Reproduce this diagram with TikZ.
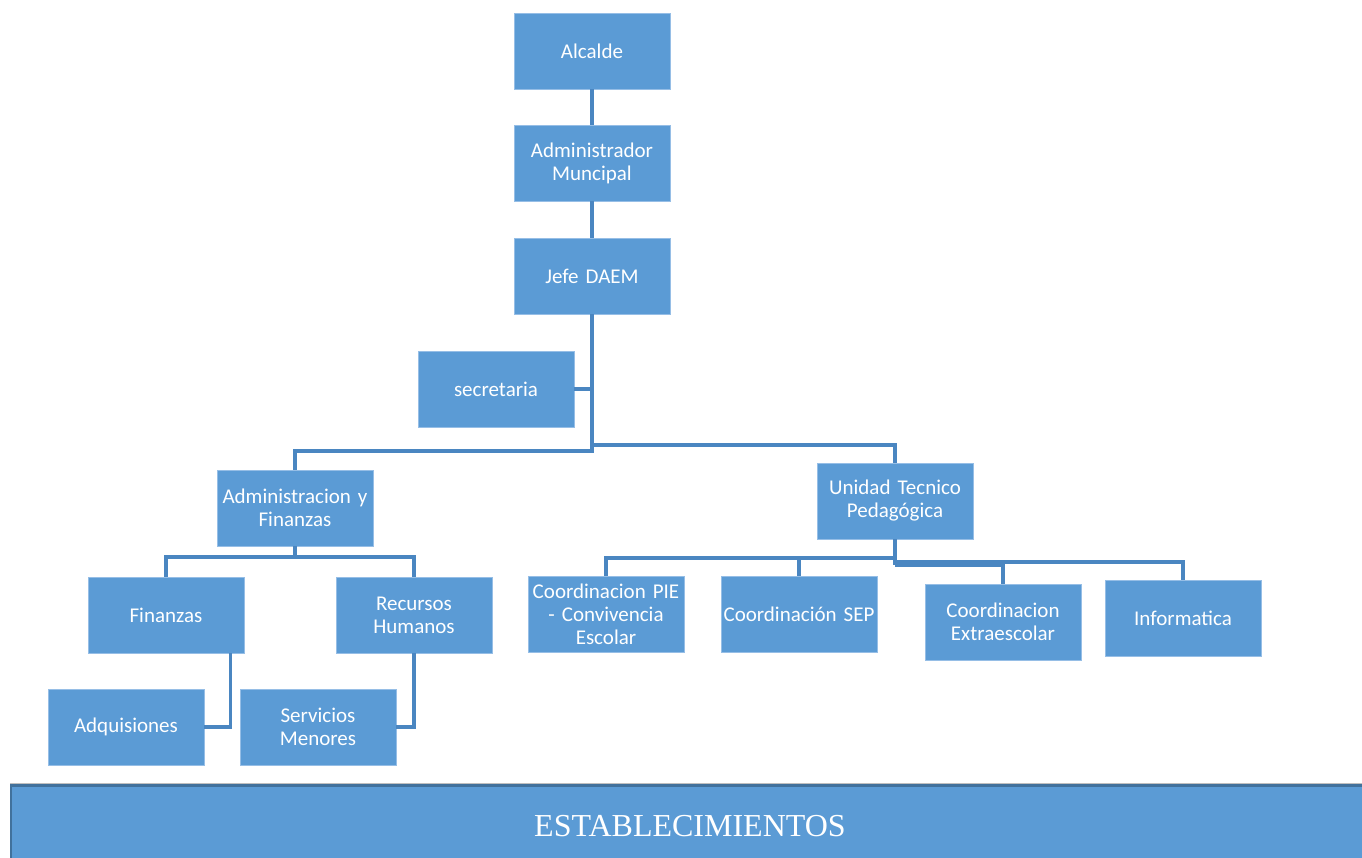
\documentclass[tikz,border=0pt]{standalone}
\usepackage{fontspec}
\setmainfont{Carlito}
\newfontfamily\timesfont{Liberation Serif}
\usetikzlibrary{calc}
\definecolor{boxfill}{RGB}{91,155,213}
\definecolor{boxedge}{RGB}{150,190,230}
\definecolor{linecol}{RGB}{74,134,193}
\definecolor{darkedge}{RGB}{65,113,156}
\tikzset{
  orgbox/.style={rectangle, fill=boxfill, draw=boxedge, line width=0.8pt,
    minimum width=156pt, minimum height=76pt, text=white, align=center,
    text width=152pt, inner sep=2pt, font=\fontsize{21}{23}\selectfont},
  conn/.style={draw=linecol, line width=3.2pt},
}
\begin{document}
\begin{tikzpicture}[x=1pt,y=-1pt]
\useasboundingbox (0,0) rectangle (1362,858);
\node[orgbox] (alc) at (592,51) {Alcalde};
\node[orgbox] (adm) at (592,163) {Administrador\\Muncipal};
\node[orgbox] (jefe) at (592,276) {Jefe DAEM};
\node[orgbox] (sec) at (496,389) {secretaria};
\node[orgbox] (af) at (295,508) {Administracion y\\Finanzas};
\node[orgbox] (utp) at (895,501) {Unidad Tecnico\\Pedagógica};
\node[orgbox] (fin) at (166,615) {Finanzas};
\node[orgbox] (rh) at (414,615) {Recursos\\Humanos};
\node[orgbox] (adq) at (126,727) {Adquisiones};
\node[orgbox] (sm) at (318,727) {Servicios\\Menores};
\node[orgbox] (pie) at (606,614) {Coordinacion PIE\\- Convivencia\\Escolar};
\node[orgbox] (sep) at (799,614) {Coordinación SEP};
\node[orgbox] (ext) at (1003,622) {Coordinacion\\Extraescolar};
\node[orgbox] (inf) at (1183,618) {Informatica};
% Establecimientos band
\fill[boxfill] (10,784) rectangle (1362,858);
\node[text=white, font=\timesfont\fontsize{32}{36}\selectfont] (est) at (690,826) {ESTABLECIMIENTOS};
\draw[black!25, line width=1pt] (10,783) -- (1362,783);
\draw[darkedge, line width=2.5pt] (11,858) -- (11,785.5) -- (1362,785.5);
% bus levels
\coordinate (busL) at (0,451);
\coordinate (busR) at (0,445);
\coordinate (busAF) at (0,557);
\coordinate (busU1) at (0,558);
\coordinate (busU2) at (0,562);
\coordinate (busU3) at (0,565);
% connectors
\draw[conn] (alc.south) -- (adm.north);
\draw[conn] (adm.south) -- (jefe.north);
\draw[conn] (jefe.south) -- (jefe.south |- busL) -| (af.north);
\draw[conn] (jefe.south |- busR) -| (utp.north);
\draw[conn] (sec.east) -- (sec.east -| jefe.south);
\draw[conn] (af.south) -- (af.south |- busAF) -| (fin.north);
\draw[conn] (af.south |- busAF) -| (rh.north);
\coordinate (fk) at ([xshift=-14pt]fin.south east);
\draw[conn] (fk) |- (adq.east);
\draw[conn] (rh.south) |- (sm.east);
\draw[conn] (utp.south) -- (utp.south |- busU3);
\draw[conn] (utp.south |- busU1) -| (pie.north);
\draw[conn] (utp.south |- busU1) -| (sep.north);
\draw[conn] (utp.south |- busU2) -| (inf.north);
\draw[conn] (utp.south |- busU3) -| (ext.north);
\end{tikzpicture}
\end{document}
